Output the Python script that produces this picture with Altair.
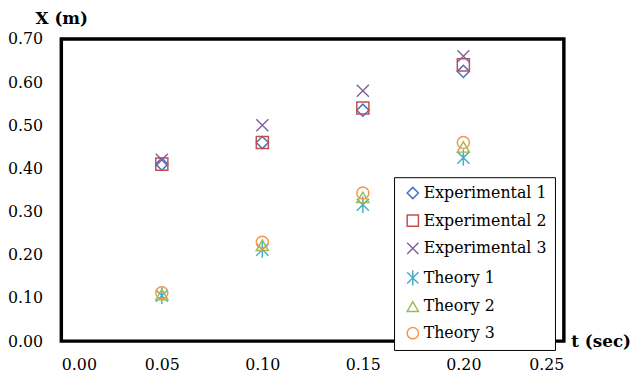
import altair as alt
import pandas as pd

t_vals = [0.05, 0.10, 0.15, 0.20]
series_names = ["Experimental 1", "Experimental 2", "Experimental 3",
                "Theory 1", "Theory 2", "Theory 3"]
exp1 = [0.41, 0.46, 0.535, 0.625]
exp2 = [0.41, 0.46, 0.54, 0.64]
exp3 = [0.42, 0.50, 0.58, 0.66]
th1 = [0.105, 0.212, 0.316, 0.425]
th2 = [0.108, 0.222, 0.333, 0.45]
th3 = [0.112, 0.229, 0.343, 0.46]
x_ticks = [0.0, 0.05, 0.10, 0.15, 0.20, 0.25]
y_ticks = [0.0, 0.1, 0.2, 0.3, 0.4, 0.5, 0.6, 0.7]

colors = ["#4472C4", "#C0504D", "#8064A2", "#4BACC6", "#9BBB59", "#F79646"]
shapes = ["diamond", "square", "M-1,-1L1,1M-1,1L1,-1",
          "M-1,-1L1,1M-1,1L1,-1M0,-1.35L0,1.35", "triangle-up", "circle"]

rows = []
for name, vals in zip(series_names, [exp1, exp2, exp3, th1, th2, th3]):
    for t, v in zip(t_vals, vals):
        rows.append({"t": t, "x": v, "series": name})
df = pd.DataFrame(rows)

FONT = "DejaVu Serif"

chart = alt.Chart(df).mark_point(filled=False, strokeWidth=1.5, size=150, opacity=1).encode(
    x=alt.X("t:Q", scale=alt.Scale(domain=[0, 0.25], nice=False, zero=False),
            axis=alt.Axis(values=x_ticks, format=".2f", grid=False, ticks=False, domain=False,
                          labelFont=FONT, labelFontSize=16, labelColor="#000", labelPadding=16,
                          title="t (sec)", titleFont=FONT, titleFontSize=17, titleFontWeight="bold",
                          titleColor="#000", titleAngle=0, titleX=516, titleY=0,
                          titleAlign="left", titleBaseline="middle")),
    y=alt.Y("x:Q", scale=alt.Scale(domain=[0, 0.7], nice=False),
            axis=alt.Axis(values=y_ticks, format=".2f", grid=False, ticks=False, domain=False,
                          labelFont=FONT, labelFontSize=16, labelColor="#000", labelPadding=19,
                          title="X (m)", titleFont=FONT, titleFontSize=17, titleFontWeight="bold",
                          titleColor="#000", titleAngle=0, titleX=0, titleY=-21,
                          titleAlign="center", titleBaseline="middle")),
    color=alt.Color("series:N", scale=alt.Scale(domain=series_names, range=colors),
                    legend=alt.Legend(title=None, orient="none", legendX=337, legendY=140,
                                      strokeColor="#000", fillColor="#fff", padding=8,
                                      rowPadding=10, labelFont=FONT, labelFontSize=16,
                                      labelColor="#000", symbolSize=130, symbolStrokeWidth=1.5,
                                      symbolOffset=3, labelOffset=3, labelLimit=300)),
    shape=alt.Shape("series:N", scale=alt.Scale(domain=series_names, range=shapes), legend=None),
).properties(
    width=509, height=306,
    autosize=alt.AutoSizeParams(type="none"),
    padding={"left": 54, "top": 29, "right": 68, "bottom": 36},
    background="white",
).configure_view(stroke="#000", strokeWidth=3.5)

chart.save("out.html", embed_options={"renderer": "svg", "actions": False})
